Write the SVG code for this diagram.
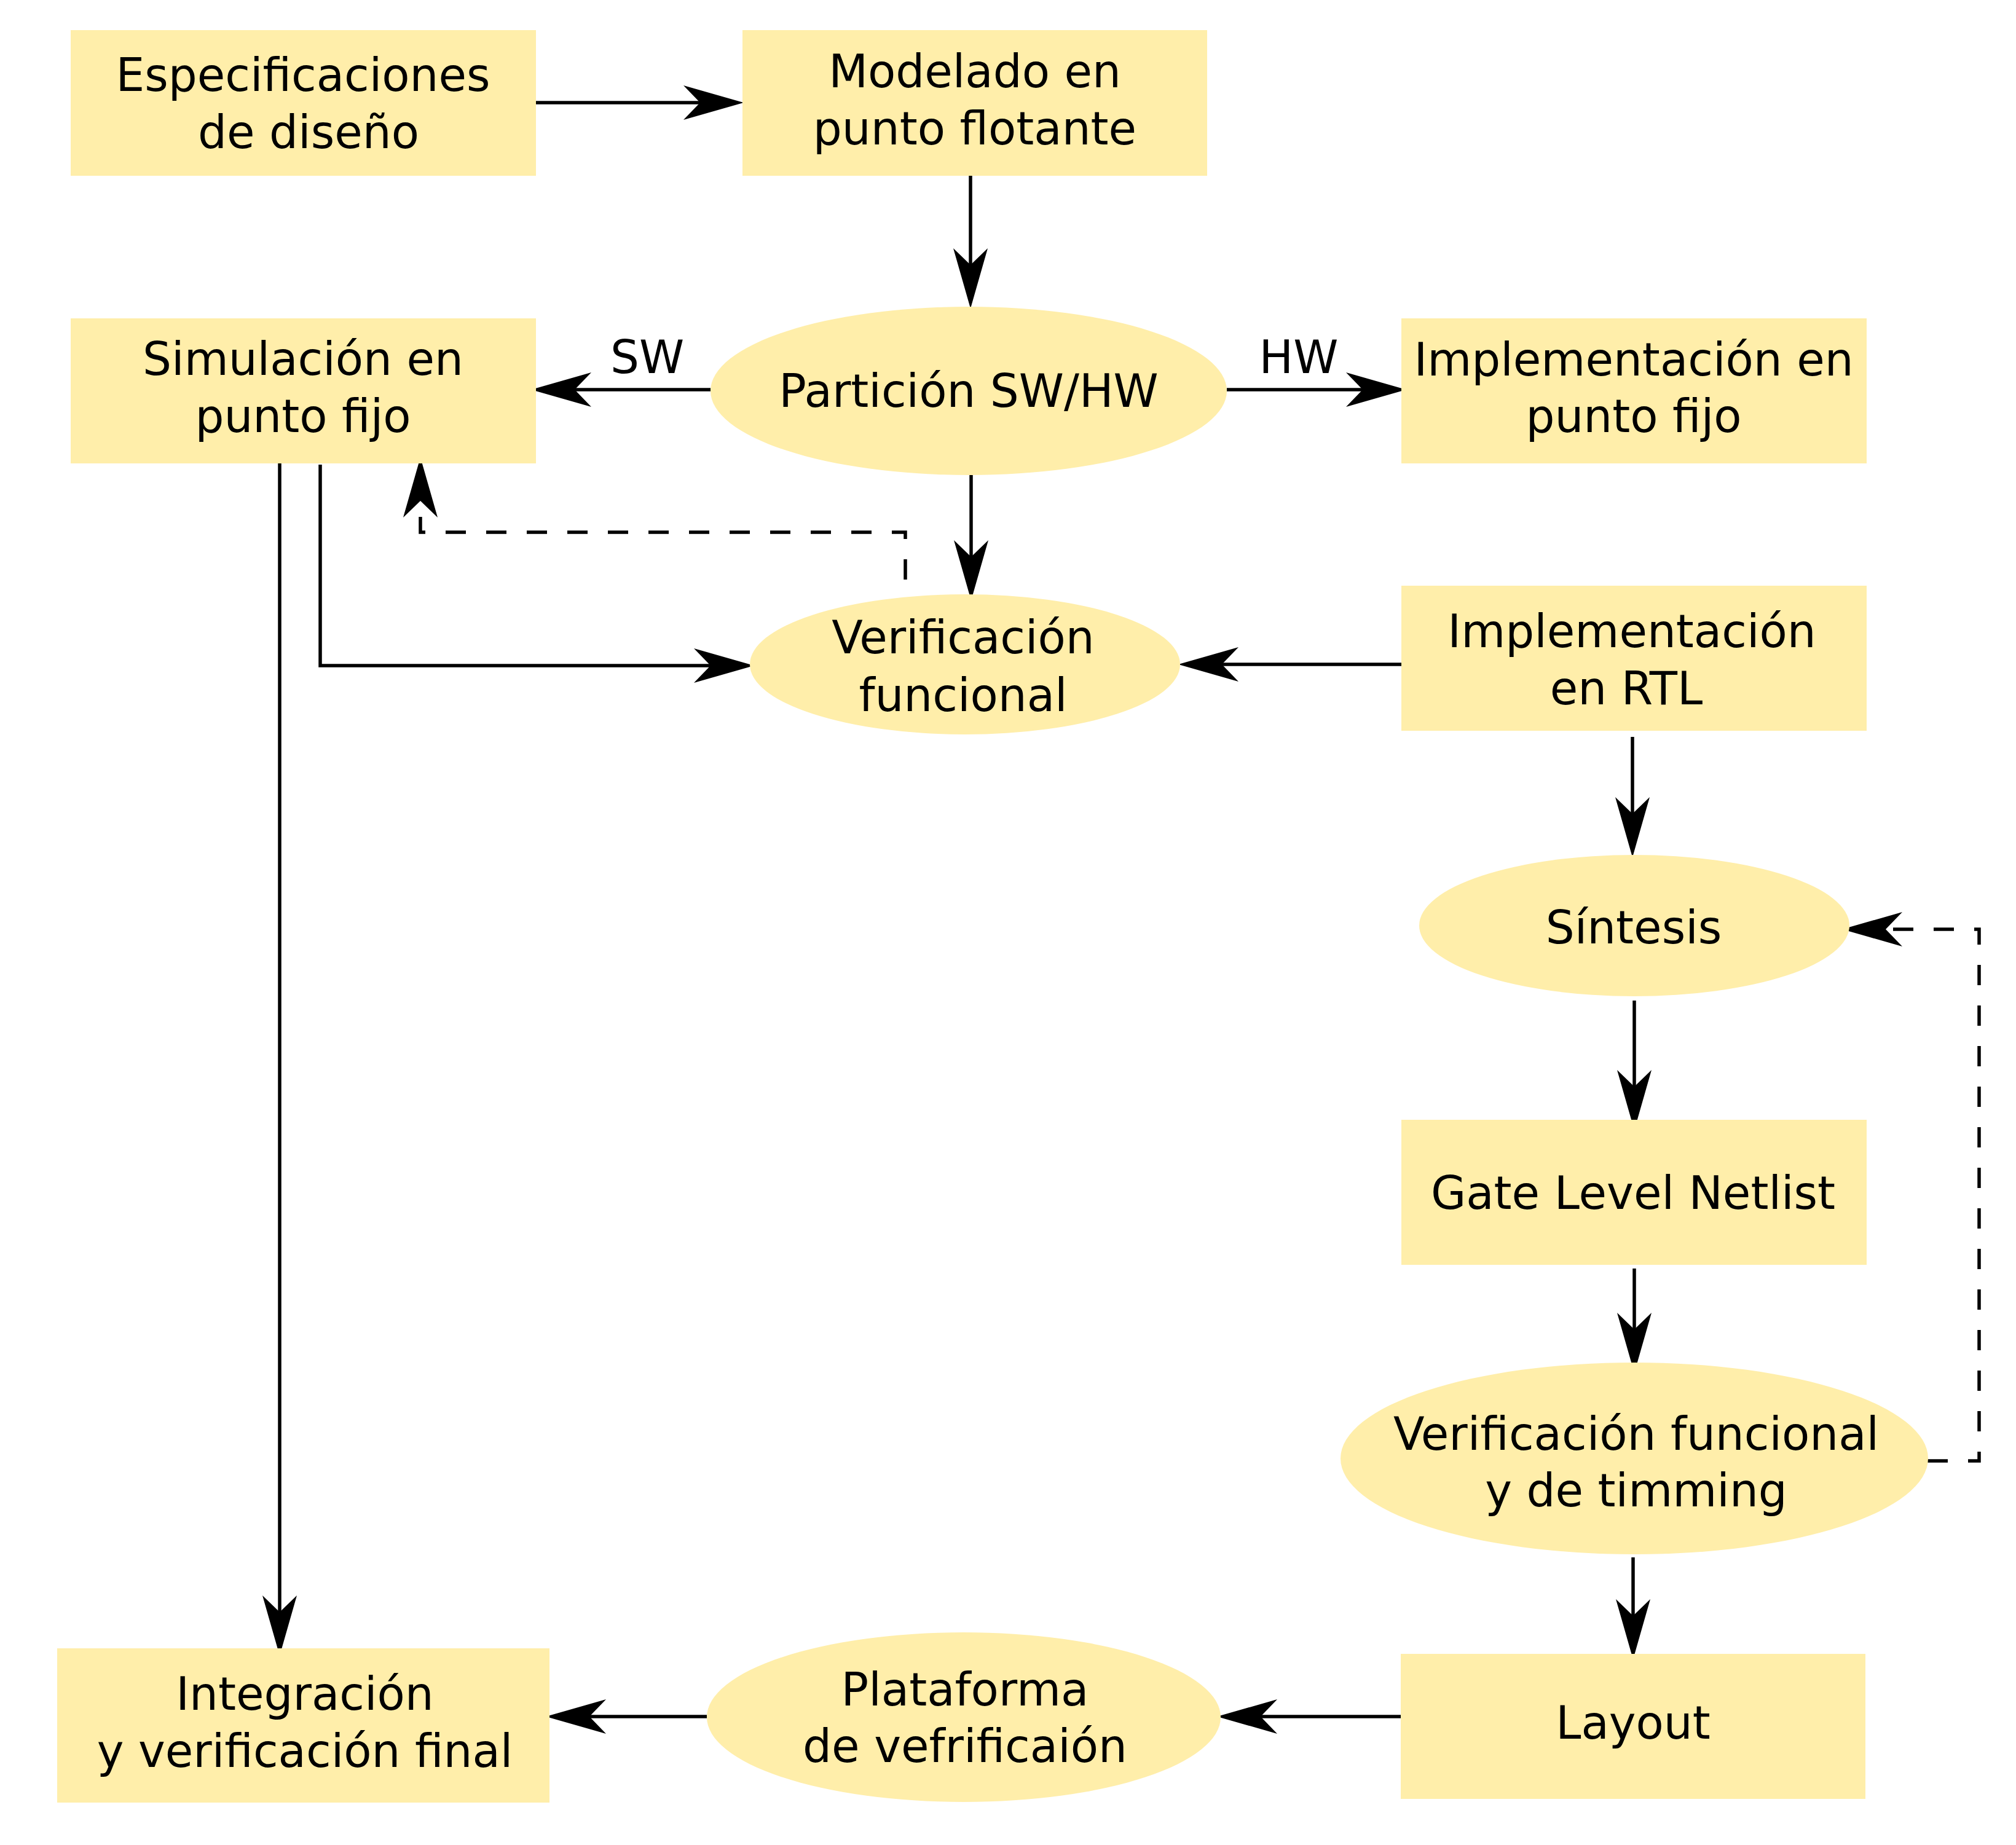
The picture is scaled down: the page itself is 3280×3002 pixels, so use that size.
<svg xmlns="http://www.w3.org/2000/svg" width="3280" height="3002" viewBox="0 0 3280 3002">
<style>
.n{fill:#ffeeaa;stroke:none}
.t{font-family:"DejaVu Sans",sans-serif;font-size:74px;text-anchor:middle;fill:#000}
.c{fill:none;stroke:#000;stroke-width:5.5;marker-end:url(#ah)}
.d{stroke-dasharray:33 33}
</style>
<defs>
<marker id="ah" markerUnits="userSpaceOnUse" viewBox="-28 -30 100 60" markerWidth="100" markerHeight="60" refX="0" refY="0" orient="auto" overflow="visible">
<path d="M71,0 L-27,-28 L0,0 L-27,28 Z" fill="#000"/>
</marker>
</defs>
<rect width="3280" height="3002" fill="#fff"/>
<g id="connectors">
<path class="c" d="M872,167 H1139"/>
<path class="c" d="M1579,286 V431"/>
<path class="c" d="M1156,634 H935"/>
<path class="c" d="M1996,634 H2217"/>
<path class="c" d="M1580,773 V906"/>
<path class="c" d="M521,756 V1083 H1156"/>
<path class="c d" d="M1473,943 V866 H684 V815"/>
<path class="c" d="M2280,1081 H1988"/>
<path class="c" d="M2656,1199 V1324"/>
<path class="c" d="M2659,1628 V1768"/>
<path class="c" d="M2659,2064 V2163"/>
<path class="c d" d="M3136,2377 H3220 V1512 H3068"/>
<path class="c" d="M2657,2534 V2629"/>
<path class="c" d="M2279,2793 H2051"/>
<path class="c" d="M1150,2793 H959"/>
<path class="c" d="M455,743 V2623"/>
</g>
<g id="especificaciones"><rect class="n" x="115" y="49" width="757" height="237"/><text class="t" x="493" y="148">Especificaciones</text><text class="t" x="502" y="241">de diseño</text></g>
<g id="modelado"><rect class="n" x="1208" y="49" width="756" height="237"/><text class="t" x="1586" y="142">Modelado en</text><text class="t" x="1586" y="235">punto flotante</text></g>
<g id="simulacion"><rect class="n" x="115" y="518" width="757" height="236"/><text class="t" x="493" y="610">Simulación en</text><text class="t" x="493" y="703">punto fijo</text></g>
<g id="particion"><ellipse class="n" cx="1576" cy="636" rx="420" ry="137"/><text class="t" x="1576" y="662">Partición SW/HW</text></g>
<g id="label-sw"><text class="t" x="1053" y="607">SW</text></g>
<g id="label-hw"><text class="t" x="2113" y="607">HW</text></g>
<g id="impl-fijo"><rect class="n" x="2280" y="518" width="757" height="236"/><text class="t" x="2658" y="611">Implementación en</text><text class="t" x="2658" y="703">punto fijo</text></g>
<g id="verif-funcional"><ellipse class="n" cx="1570" cy="1081" rx="350" ry="114"/><text class="t" x="1567" y="1063">Verificación</text><text class="t" x="1567" y="1157">funcional</text></g>
<g id="impl-rtl"><rect class="n" x="2280" y="953" width="757" height="236"/><text class="t" x="2655" y="1053">Implementación</text><text class="t" x="2646" y="1146">en RTL</text></g>
<g id="sintesis"><ellipse class="n" cx="2659" cy="1506" rx="350" ry="115"/><text class="t" x="2658" y="1535">Síntesis</text></g>
<g id="gate-netlist"><rect class="n" x="2280" y="1822" width="757" height="236"/><text class="t" x="2657" y="1967">Gate Level Netlist</text></g>
<g id="verif-timming"><ellipse class="n" cx="2659" cy="2373" rx="478" ry="156"/><text class="t" x="2662" y="2359">Verificación funcional</text><text class="t" x="2662" y="2451">y de timming</text></g>
<g id="layout"><rect class="n" x="2279" y="2691" width="756" height="236"/><text class="t" x="2657" y="2829">Layout</text></g>
<g id="plataforma"><ellipse class="n" cx="1568" cy="2794" rx="418" ry="138"/><text class="t" x="1570" y="2775">Plataforma</text><text class="t" x="1570" y="2867">de vefrificaión</text></g>
<g id="integracion"><rect class="n" x="93" y="2682" width="801" height="251"/><text class="t" x="496" y="2782">Integración</text><text class="t" x="496" y="2875">y verificación final</text></g>
</svg>
